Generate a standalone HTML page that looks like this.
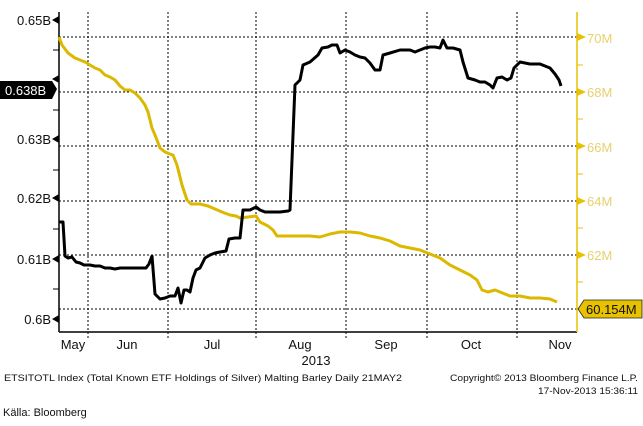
<!DOCTYPE html>
<html><head><meta charset="utf-8"><style>
body{margin:0;background:#fff;}
svg{display:block;font-family:"Liberation Sans",sans-serif;}
</style></head><body>
<svg width="643" height="426" viewBox="0 0 643 426" xmlns="http://www.w3.org/2000/svg">
<g stroke="#000" stroke-width="1" stroke-dasharray="2,2" fill="none">
<line x1="59" y1="37" x2="577" y2="37"/><line x1="59" y1="92" x2="577" y2="92"/>
<line x1="59" y1="146" x2="577" y2="146"/><line x1="59" y1="201" x2="577" y2="201"/>
<line x1="59" y1="255" x2="577" y2="255"/><line x1="59" y1="309" x2="577" y2="309"/>
<line x1="88" y1="12" x2="88" y2="340"/><line x1="168" y1="12" x2="168" y2="340"/>
<line x1="256" y1="12" x2="256" y2="340"/><line x1="346" y1="12" x2="346" y2="340"/>
<line x1="427" y1="12" x2="427" y2="340"/><line x1="517" y1="12" x2="517" y2="340"/>
</g>
<line x1="59" y1="12" x2="59" y2="332" stroke="#000" stroke-width="1.5"/>
<line x1="59" y1="332" x2="577" y2="332" stroke="#000" stroke-width="1.5"/>
<line x1="577" y1="12" x2="577" y2="332" stroke="#e8c200" stroke-width="1.5"/>
<g stroke="#000"><line x1="53" y1="50" x2="59" y2="50"/><line x1="53" y1="110" x2="59" y2="110"/><line x1="53" y1="170" x2="59" y2="170"/><line x1="53" y1="229" x2="59" y2="229"/><line x1="53" y1="289" x2="59" y2="289"/></g>
<g fill="#000"><polygon points="52,20 59,16 59,24"/><polygon points="52,79 59,75 59,83"/><polygon points="52,139 59,135 59,143"/><polygon points="52,198 59,194 59,202"/><polygon points="52,259 59,255 59,263"/><polygon points="52,319 59,315 59,323"/></g>
<g font-size="13" fill="#111" text-anchor="end">
<text x="51" y="25">0.65B</text><text x="51" y="144">0.63B</text><text x="51" y="203">0.62B</text><text x="51" y="264">0.61B</text><text x="51" y="324">0.6B</text></g>
<polygon points="0,81 52,81 57,89 52,99 0,99" fill="#000"/>
<text x="5" y="95" font-size="13" fill="#fff">0.638B</text>
<g fill="#e8c200"><polygon points="577,33 586,37 577,41"/><polygon points="577,88 586,92 577,96"/><polygon points="577,142 586,146 577,150"/><polygon points="577,197 586,201 577,205"/><polygon points="577,251 586,255 577,259"/></g>
<g stroke="#e8c200"><line x1="577" y1="65" x2="583" y2="65"/><line x1="577" y1="119" x2="583" y2="119"/><line x1="577" y1="174" x2="583" y2="174"/><line x1="577" y1="228" x2="583" y2="228"/><line x1="577" y1="282" x2="583" y2="282"/></g>
<g font-size="13" fill="#e8d070"><text x="587" y="43">70M</text><text x="587" y="97">68M</text><text x="587" y="152">66M</text><text x="587" y="206">64M</text><text x="587" y="260">62M</text></g>
<polygon points="578,309 584,300 642,300 642,318 584,318" fill="#e8c200" stroke="#222" stroke-width="0.8"/>
<text x="586" y="314" font-size="13" fill="#111">60.154M</text>
<polyline fill="none" stroke="#dcb800" stroke-width="3" stroke-linejoin="round" points="59,37 62,45 68,53 75,58 80,60 85,62 90,65 95,68 100,70 105,75 110,77 115,80 120,86 125,90 130,90 135,93 140,98 145,105 148,112 152,128 155,135 160,148 165,152 170,154 173,155 177,165 182,185 187,200 191,204 200,204 208,206 215,209 222,212 230,215 236,216 240,218 248,217 256,216 260,222 268,226 273,230 277,236 285,236 300,236 310,236 320,237 330,234 340,232 350,232 360,233 370,236 380,238 390,241 400,246 410,248 420,250 430,254 440,258 450,265 460,270 470,275 477,280 482,290 488,292 495,290 500,292 510,296 520,296 530,298 540,298 550,299 557,302"/>
<polyline fill="none" stroke="#000" stroke-width="3" stroke-linejoin="round" points="59,222 63,222 65,256 68,258 72,257 76,262 80,263 84,265 90,265 95,266 100,266 105,268 110,268 115,269 120,268 130,268 140,268 146,268 149,264 152,256 155,294 160,299 165,298 170,296 175,296 178,288 181,303 184,290 187,290 190,292 193,278 196,270 200,268 205,258 210,255 215,253 220,252 226,251 229,239 235,238 240,238 243,210 250,210 256,207 260,210 265,212 280,212 288,211 290,210 295,85 300,80 303,65 310,62 318,55 322,48 328,47 332,45 337,45 340,53 345,50 350,52 355,55 360,57 365,58 370,63 375,70 380,70 383,55 390,53 400,50 410,50 415,52 420,50 425,48 430,47 435,47 440,48 443,40 447,48 453,48 460,50 463,62 468,78 475,80 480,82 485,82 490,85 493,88 497,78 502,77 507,80 511,78 514,68 520,62 530,64 540,64 545,66 550,68 555,74 559,80 561,86"/>
<g font-size="13" fill="#111" text-anchor="middle">
<text x="73" y="349">May</text><text x="127" y="349">Jun</text><text x="212" y="349">Jul</text><text x="300" y="349">Aug</text><text x="386" y="349">Sep</text><text x="471" y="349">Oct</text><text x="560" y="349">Nov</text>
<text x="316" y="365">2013</text></g>
<g font-family="'Liberation Sans',sans-serif" font-size="9" fill="#111">
<text x="4" y="381" textLength="398" lengthAdjust="spacingAndGlyphs">ETSITOTL Index (Total Known ETF Holdings of Silver) Malting Barley  Daily 21MAY2</text>
<text x="450" y="381" textLength="188" lengthAdjust="spacingAndGlyphs">Copyright© 2013 Bloomberg Finance L.P.</text>
<text x="538" y="394" textLength="100" lengthAdjust="spacingAndGlyphs">17-Nov-2013 15:36:11</text></g>
<text x="3" y="416" font-size="11" fill="#111">Källa: Bloomberg</text>
</svg>
</body></html>
